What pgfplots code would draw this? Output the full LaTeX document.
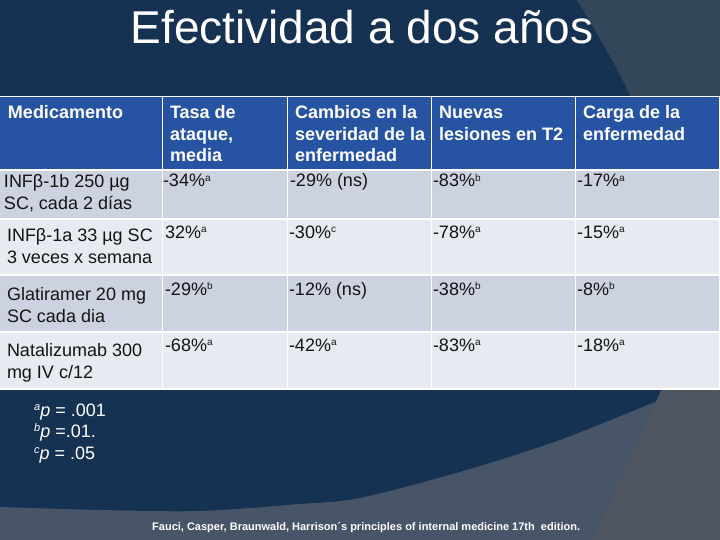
\documentclass[border=0pt]{standalone}
\usepackage{fontspec}
\setmainfont{Liberation Sans}
\usepackage{pgfplots}
\pgfplotsset{compat=1.18}
\definecolor{navy}{RGB}{22,50,82}
\definecolor{slate}{RGB}{52,70,90}
\definecolor{grayA}{RGB}{72,85,104}
\definecolor{grayB}{RGB}{80,86,96}
\definecolor{hdr}{RGB}{38,84,162}
\definecolor{rowA}{RGB}{205,210,224}
\definecolor{rowB}{RGB}{232,234,241}
\definecolor{txt}{RGB}{20,20,20}
\newcommand{\sa}[1]{\raisebox{5.5pt}{\fontsize{10}{10}\selectfont #1}}
\begin{document}
\begin{tikzpicture}
\begin{axis}[x=1pt,y=1pt,y dir=reverse,xmin=0,xmax=720,ymin=0,ymax=540,
  hide axis,scale only axis,clip=false]
% background
\fill[navy] (0,0) rectangle (720,540);
\fill[slate] (577,0) .. controls (598,35) and (618,68) .. (632,100) -- (720,100) -- (720,0) -- cycle;
\fill[grayA] plot[smooth] coordinates {(0,507) (100,510) (200,511) (300,504) (360,498) (460,472) (560,440) (660,400) (700,385) (720,378)} -- (720,540) -- (0,540) -- cycle;
\fill[grayB] (662,388) .. controls (640,440) and (615,490) .. (593,540) -- (720,540) -- (720,388) -- cycle;
% table
\fill[white] (0,96) rectangle (720,390);
\fill[hdr] (0,97.5) rectangle (161.5,169);
\fill[hdr] (163,97.5) rectangle (286.5,169);
\fill[hdr] (288,97.5) rectangle (430.5,169);
\fill[hdr] (432,97.5) rectangle (574.5,169);
\fill[hdr] (576,97.5) rectangle (718.5,169);
% row 1
\fill[rowA] (0,171) rectangle (161.5,218);
\fill[rowA] (163,171) rectangle (286.5,218);
\fill[rowA] (288,171) rectangle (430.5,218);
\fill[rowA] (432,171) rectangle (574.5,218);
\fill[rowA] (576,171) rectangle (718.5,218);
% row 2
\fill[rowB] (0,220) rectangle (161.5,274);
\fill[rowB] (163,220) rectangle (286.5,274);
\fill[rowB] (288,220) rectangle (430.5,274);
\fill[rowB] (432,220) rectangle (574.5,274);
\fill[rowB] (576,220) rectangle (718.5,274);
% row 3
\fill[rowA] (0,276) rectangle (161.5,331);
\fill[rowA] (163,276) rectangle (286.5,331);
\fill[rowA] (288,276) rectangle (430.5,331);
\fill[rowA] (432,276) rectangle (574.5,331);
\fill[rowA] (576,276) rectangle (718.5,331);
% row 4
\fill[rowB] (0,333) rectangle (161.5,388);
\fill[rowB] (163,333) rectangle (286.5,388);
\fill[rowB] (288,333) rectangle (430.5,388);
\fill[rowB] (432,333) rectangle (574.5,388);
\fill[rowB] (576,333) rectangle (718.5,388);
% title
\node[anchor=base,inner sep=0pt,text=white,font=\fontsize{46}{50}\selectfont] at (362,44) {Efectividad a dos años};
% header (y = baseline of last line)
\begin{scope}[every node/.append style={anchor=base west,inner sep=0pt,outer sep=0pt,text=white,align=left,font=\fontsize{18}{21.5}\selectfont\bfseries}]
\node at (8,119) {Medicamento};
\node at (170,162) {Tasa de\\ataque,\\media};
\node at (295,162) {Cambios en la\\severidad de la\\enfermedad};
\node at (439,140.5) {Nuevas\\lesiones en T2};
\node at (583,140.5) {Carga de la\\enfermedad};
\end{scope}
% body
\begin{scope}[every node/.append style={anchor=base west,inner sep=0pt,outer sep=0pt,text=txt,align=left,font=\fontsize{18}{22}\selectfont}]
\node at (4,210) {INFβ-1b 250 µg\\SC, cada 2 días};
\node at (7,263) {INFβ-1a 33 µg SC\\3 veces x semana};
\node at (7,322) {Glatiramer 20 mg\\SC cada dia};
\node at (7,378) {Natalizumab 300\\mg IV c/12};
\node at (163,187) {-34\%\sa{a}};
\node at (290,187) {-29\% (ns)};
\node at (433,187) {-83\%\sa{b}};
\node at (577,187) {-17\%\sa{a}};
\node at (165,238) {32\%\sa{a}};
\node at (289,238) {-30\%\sa{c}};
\node at (433,238) {-78\%\sa{a}};
\node at (577,238) {-15\%\sa{a}};
\node at (165,295) {-29\%\sa{b}};
\node at (289,295) {-12\% (ns)};
\node at (433,295) {-38\%\sa{b}};
\node at (577,295) {-8\%\sa{b}};
\node at (165,351) {-68\%\sa{a}};
\node at (289,351) {-42\%\sa{a}};
\node at (433,351) {-83\%\sa{a}};
\node at (577,351) {-18\%\sa{a}};
\end{scope}
% footnotes
\node[anchor=base west,inner sep=0pt,text=white,align=left,font=\fontsize{18}{21.5}\selectfont] at (34,459)
  {\raisebox{6pt}{\fontsize{11}{11}\selectfont\itshape a}\textit{p} = .001\\
   \raisebox{6pt}{\fontsize{11}{11}\selectfont\itshape b}\textit{p} =.01.\\
   \raisebox{6pt}{\fontsize{11}{11}\selectfont\itshape c}\textit{p} = .05};
% source
\node[anchor=base west,inner sep=0pt,text=white,font=\fontsize{11}{12}\selectfont\bfseries] at (152,530)
  {Fauci, Casper, Braunwald, Harrison´s principles of internal medicine 17th\ \ edition.};
\end{axis}
\end{tikzpicture}
\end{document}
